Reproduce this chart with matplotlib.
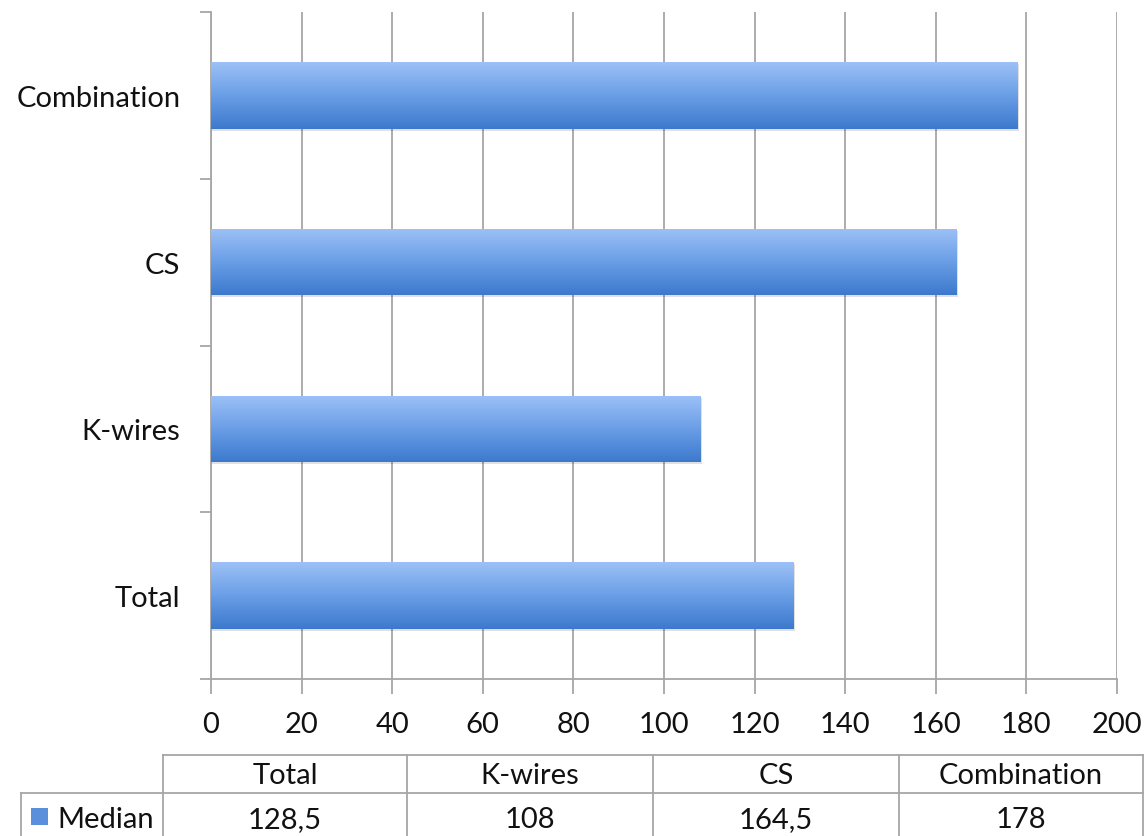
import numpy as np
import matplotlib.pyplot as plt
from matplotlib.colors import LinearSegmentedColormap
from matplotlib.lines import Line2D
from matplotlib.patches import Rectangle

plt.rcParams['font.family'] = ['Lato', 'DejaVu Sans']

categories = ["Total", "K-wires", "CS", "Combination"]
median = [128.5, 108, 164.5, 178]
median_labels = ["128,5", "108", "164,5", "178"]
series_name = "Median"
xticks = [0, 20, 40, 60, 80, 100, 120, 140, 160, 180, 200]

W, H = 1146, 837
fig = plt.figure(figsize=(W / 100, H / 100), dpi=100)
ax = fig.add_axes([211 / W, 1 - 680 / H, (1117 - 211) / W, (680 - 13) / H])

grid_col = "#a6a6a6"
txt_col = "#111111"
fs = 21
cmap = LinearSegmentedColormap.from_list("bar", ["#3c79cd", "#6a9ee6", "#9dc1f7"])

ypos = np.arange(len(categories))
bars = ax.barh(ypos, median, height=0.4, color="none", edgecolor="none", zorder=3)
grad = np.linspace(0, 1, 256).reshape(-1, 1)
for b in bars:
    x0, y0 = b.get_x(), b.get_y()
    w, h = b.get_width(), b.get_height()
    # soft shadow below the bar
    ax.add_patch(Rectangle((x0, y0 - 0.012), w + 0.4, h, color="#000000", alpha=0.12,
                           zorder=2, linewidth=0))
    im = ax.imshow(grad, extent=[x0, x0 + w, y0, y0 + h], origin="lower", cmap=cmap,
                   aspect="auto", zorder=3, interpolation="bilinear")
    im.set_clip_path(b)

ax.set_xlim(0, 200)
ax.set_ylim(-0.5, len(categories) - 0.5)
ax.set_xticks(xticks)
ax.set_yticks(ypos)
ax.set_yticklabels(categories)
ax.set_yticks(np.arange(-0.5, len(categories), 1), minor=True)

ax.grid(axis="x", color=grid_col, linewidth=1.3, zorder=0)
ax.set_axisbelow(True)
for s in ["top", "right"]:
    ax.spines[s].set_visible(False)
for s in ["left", "bottom"]:
    ax.spines[s].set_color(grid_col)
    ax.spines[s].set_linewidth(1.3)

ax.tick_params(axis="x", direction="out", length=11, width=1.3, color=grid_col,
               labelsize=fs, pad=12, labelcolor=txt_col)
ax.tick_params(axis="y", which="major", length=0, labelsize=fs, pad=22, labelcolor=txt_col)
ax.tick_params(axis="y", which="minor", length=8, width=1.3, color=grid_col)

# data table below the chart
col_edges = [163, 407, 653, 899, 1143]
row_top, row_mid, row_bot = 756, 794, 860
label_left = 21

def fx(px):
    return px / W

def fy(py):
    return 1 - py / H

lw = 1.3
lines = [
    ((col_edges[0], col_edges[-1]), (row_top, row_top)),
    ((label_left, col_edges[-1]), (row_mid, row_mid)),
    ((label_left, label_left), (row_mid, row_bot)),
]
for xe in col_edges:
    lines.append(((xe, xe), (row_top, row_bot)))
for xs, ys in lines:
    fig.add_artist(Line2D([fx(xs[0]), fx(xs[1])], [fy(ys[0]), fy(ys[1])],
                          color=grid_col, linewidth=lw, transform=fig.transFigure))

for i, (cat, lab) in enumerate(zip(categories, median_labels)):
    cx = (col_edges[i] + col_edges[i + 1]) / 2
    fig.text(fx(cx), fy(776), cat, ha="center", va="center", fontsize=fs, color=txt_col)
    fig.text(fx(cx), fy(820), lab, ha="center", va="center", fontsize=fs, color=txt_col)

# legend key in the row header
key = Rectangle((fx(31), fy(826)), 17 / W, 17 / H, transform=fig.transFigure,
                facecolor="#5a8fdc", edgecolor="none")
fig.add_artist(key)
fig.text(fx(57), fy(820), series_name, ha="left", va="center", fontsize=fs, color=txt_col)

fig.savefig("out.png", dpi=100)
